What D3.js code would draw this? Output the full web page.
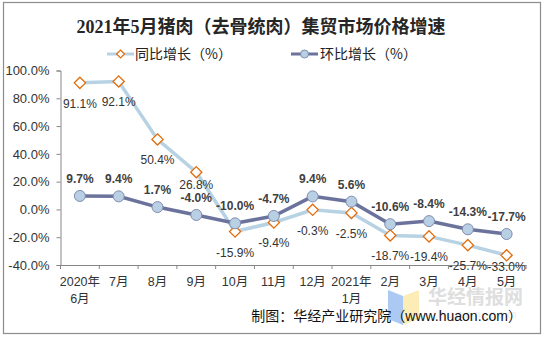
<!DOCTYPE html>
<html>
<head>
<meta charset="utf-8">
<script src="https://d3js.org/d3.v7.min.js"></script>
<style>
  body { margin: 0; background: #fff; }
  svg { display: block; font-family: "Liberation Sans", Arial, "Noto Sans CJK SC", sans-serif; }
</style>
</head>
<body>
<svg id="chart" width="544" height="339"></svg>
<script>
const months = ["2020年\n6月", "7月", "8月", "9月", "10月", "11月", "12月", "2021年\n1月", "2月", "3月", "4月", "5月"]
const yoy = [91.1, 92.1, 50.4, 26.8, -15.9, -9.4, -0.3, -2.5, -18.7, -19.4, -25.7, -33.0]
const mom = [9.7, 9.4, 1.7, -4.0, -10.0, -4.7, 9.4, 5.6, -10.6, -8.4, -14.3, -17.7]
const yTicks = [-40, -20, 0, 20, 40, 60, 80, 100]

const svg = d3.select("#chart")
const plotL = 60.5, plotR = 526, plotT = 70.5, plotB = 265

const x = d3.scaleBand().domain(months).range([plotL, plotR])
const y = d3.scaleLinear().domain([-40, 100]).range([plotB, plotT])
const cx = (d, i) => x(months[i]) + x.bandwidth() / 2

// outer frame
svg.append("rect").attr("x", 3.5).attr("y", 2.5).attr("width", 537).attr("height", 331)
  .attr("fill", "#fff").attr("stroke", "#8c8c8c").attr("stroke-width", 1.2)

svg.append("text").attr("x", 261).attr("y", 33).attr("text-anchor", "middle")
  .style("font-family", "'Liberation Serif', 'Noto Sans CJK SC', serif")
  .style("font-weight", "bold").style("font-size", "18px").attr("fill", "#262626")
  .text("2021年5月猪肉（去骨统肉）集贸市场价格增速")

// watermark
const wm = svg.append("g").attr("opacity", 0.75)
wm.append("path").attr("d", "M388,290 L403,296 L403,325 L388,319 Z").attr("fill", "#8fb8f0")
wm.append("path").attr("d", "M403,296 L419,290 L419,319 L403,325 Z").attr("fill", "#fbe8a0")
wm.append("text").attr("x", 428).attr("y", 304).style("font-size", "19px").style("font-weight", "bold")
  .style("font-family", "'Noto Sans CJK SC', sans-serif").attr("fill", "#d4d4d4").text("华经情报网")
wm.append("text").attr("x", 438).attr("y", 318).style("font-size", "11px")
  .attr("fill", "#e6e6e6").attr("letter-spacing", "3px").text("huaon.com")

// legend
const lg = svg.append("g")
lg.append("line").attr("x1", 107).attr("x2", 134).attr("y1", 54).attr("y2", 54)
  .attr("stroke", "#b7d2e3").attr("stroke-width", 3)
lg.append("path").attr("d", d3.symbol(d3.symbolDiamond2, 40)()).attr("transform", "translate(120.5,54)")
  .attr("fill", "#fff").attr("stroke", "#e46c0a").attr("stroke-width", 1.2)
lg.append("text").attr("x", 135).attr("y", 59).style("font-size", "14px").attr("fill", "#222")
  .style("font-family", "'Noto Sans CJK SC', sans-serif").text("同比增长（%）")
lg.append("line").attr("x1", 291).attr("x2", 318).attr("y1", 54).attr("y2", 54)
  .attr("stroke", "#6b739c").attr("stroke-width", 3)
lg.append("circle").attr("cx", 304.5).attr("cy", 54).attr("r", 4)
  .attr("fill", "#b9cfe4").attr("stroke", "#7f8db0")
lg.append("text").attr("x", 320).attr("y", 59).style("font-size", "14px").attr("fill", "#222")
  .style("font-family", "'Noto Sans CJK SC', sans-serif").text("环比增长（%）")

// y axis
const yAxis = svg.append("g").attr("transform", `translate(${plotL},0)`)
  .call(d3.axisLeft(y).tickValues(yTicks).tickSize(4).tickFormat(d => d.toFixed(1) + "%"))
yAxis.select(".domain").attr("stroke", "#868686")
yAxis.selectAll(".tick line").attr("stroke", "#868686")
yAxis.selectAll(".tick text").attr("x", -11).style("font-size", "13px").attr("fill", "#333")
  .style("font-family", "'Liberation Sans', Arial, sans-serif")

// x axis
const xAxis = svg.append("g").attr("transform", `translate(0,${plotB})`)
  .call(d3.axisBottom(x).tickSize(0).tickFormat(""))
xAxis.select(".domain").attr("stroke", "#868686")
xAxis.selectAll(".bound").data(d3.range(months.length + 1)).enter().append("line")
  .attr("x1", i => plotL + i * x.step()).attr("x2", i => plotL + i * x.step())
  .attr("y1", 0).attr("y2", 4).attr("stroke", "#868686")
months.forEach((m, i) => {
  const t = svg.append("text").attr("text-anchor", "middle").style("font-size", "12.5px").attr("fill", "#333")
    .attr("x", cx(null, i)).attr("y", plotB + 21)
  m.split("\n").forEach((s, j) => t.append("tspan").attr("x", cx(null, i)).attr("dy", j ? 17 : 0).text(s))
})

// 同比 series
svg.append("path").datum(yoy)
  .attr("d", d3.line().x(cx).y(d => y(d)))
  .attr("fill", "none").attr("stroke", "#b7d2e3").attr("stroke-width", 3.5)
// 环比 series
svg.append("path").datum(mom)
  .attr("d", d3.line().x(cx).y(d => y(d)))
  .attr("fill", "none").attr("stroke", "#6b739c").attr("stroke-width", 3.5)

svg.selectAll(".yoy").data(yoy).enter().append("path").attr("class", "yoy")
  .attr("d", d3.symbol(d3.symbolDiamond2, 80)())
  .attr("transform", (d, i) => `translate(${cx(d, i)},${y(d)})`)
  .attr("fill", "#fff").attr("stroke", "#e46c0a").attr("stroke-width", 1.3)

svg.selectAll(".mom").data(mom).enter().append("circle").attr("class", "mom")
  .attr("cx", cx).attr("cy", d => y(d)).attr("r", 5.5)
  .attr("fill", "#b9cfe4").attr("stroke", "#7f8db0").attr("stroke-width", 1)

// data labels: 同比 below the point (pulled closer where it would hit a neighbour), 环比 above
const yoyDy = i => (i === 3 ? 17 : i === 11 ? 16 : 25)
svg.selectAll(".yl").data(yoy).enter().append("text").attr("class", "yl")
  .attr("x", cx).attr("y", (d, i) => y(d) + yoyDy(i)).attr("text-anchor", "middle")
  .style("font-size", "12px").attr("fill", "#333").text(d => d.toFixed(1) + "%")
svg.selectAll(".ml").data(mom).enter().append("text").attr("class", "ml")
  .attr("x", cx).attr("y", d => y(d) - 13).attr("text-anchor", "middle")
  .style("font-size", "12px").style("font-weight", "bold").attr("fill", "#404040").text(d => d.toFixed(1) + "%")

svg.append("text").attr("x", 522).attr("y", 321).attr("text-anchor", "end")
  .style("font-size", "14px").attr("fill", "#111")
  .text("制图：华经产业研究院（www.huaon.com）")
</script>
</body>
</html>
